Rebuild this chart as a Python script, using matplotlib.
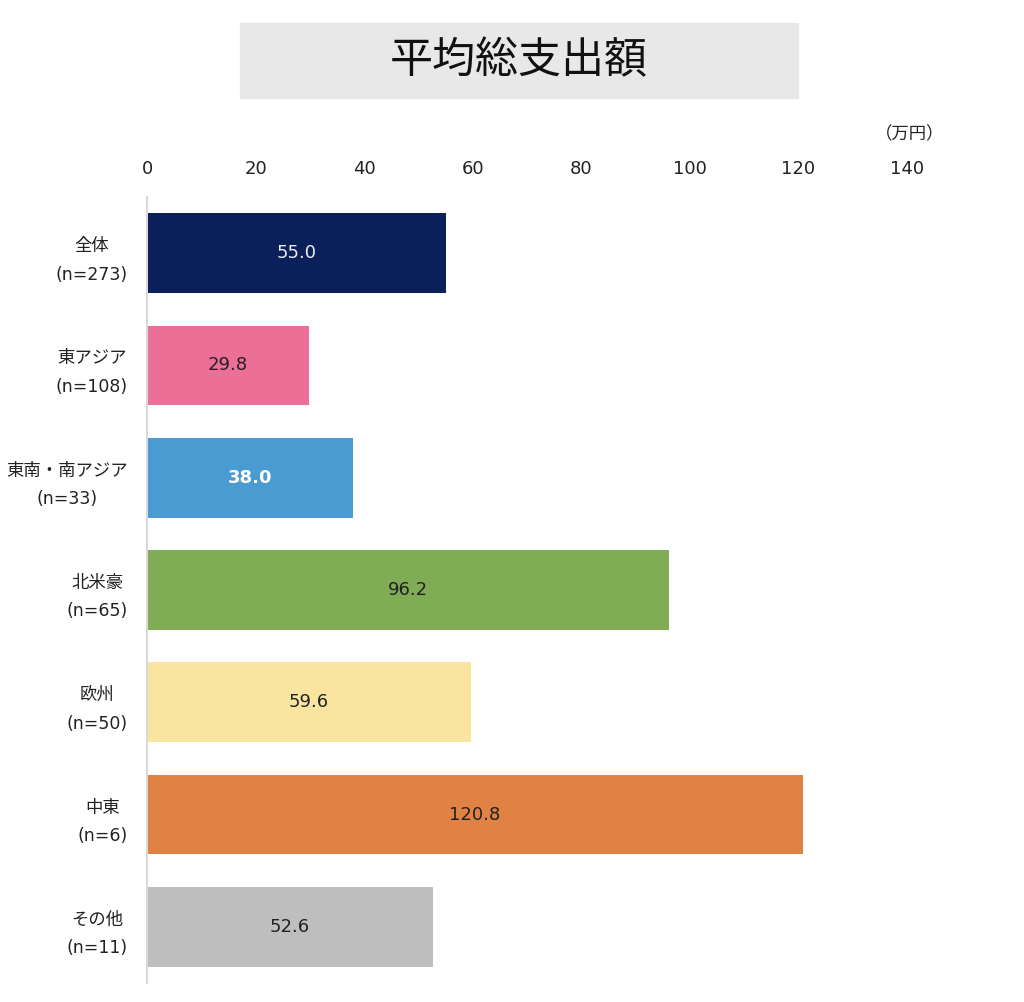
import matplotlib.pyplot as plt
from matplotlib.patches import Rectangle

plt.rcParams['font.family'] = ['DejaVu Sans', 'Noto Sans CJK JP']

regions = ['全体', '東アジア', '東南・南アジア', '北米豪', '欧州', '中東', 'その他']
counts = [273, 108, 33, 65, 50, 6, 11]
values = [55.0, 29.8, 38.0, 96.2, 59.6, 120.8, 52.6]
colors = ['#0b1f5a', '#ec6f98', '#4a9bd1', '#80ac55', '#fae5a0', '#e08244', '#bebebe']
label_colors = ['#e8ecf5', '#222222', 'white', '#222222', '#222222', '#222222', '#222222']
label_bold = [False, False, True, False, False, False, False]
ticks = [0, 20, 40, 60, 80, 100, 120, 140]

fig = plt.figure(figsize=(10.24, 10.02), dpi=100)
ax = fig.add_axes([0.1436, 0.019, 0.7422, 0.7844])

ypos = list(range(len(regions)))
ax.barh(ypos, values, height=0.71, color=colors)
for y, v, c, b in zip(ypos, values, label_colors, label_bold):
    ax.text(v / 2, y, f'{v:.1f}', ha='center', va='center', fontsize=13,
            color=c, fontweight='bold' if b else 'normal')

ax.set_ylim(len(regions) - 0.5, -0.5)
ax.set_xlim(0, 140)
ax.set_xticks(ticks)
ax.xaxis.tick_top()
ax.tick_params(axis='x', length=0, pad=14, labelsize=13, labelcolor='#222222')
ax.set_yticks(ypos)
ax.set_yticklabels([f'{r}\n(n={n})' for r, n in zip(regions, counts)],
                   multialignment='center', linespacing=1.75)
ax.tick_params(axis='y', length=0, pad=13.7, labelsize=12.5, labelcolor='#222222')

for s in ['top', 'right', 'bottom']:
    ax.spines[s].set_visible(False)
ax.spines['left'].set_color('#d9d9d9')
ax.spines['left'].set_linewidth(1.5)

fig.patches.append(Rectangle((240 / 1024, 1 - 98 / 1002), 558 / 1024, 75 / 1002,
                             transform=fig.transFigure, color='#e8e8e8', zorder=0))
fig.text(519 / 1024, 1 - 61 / 1002, '平均総支出額', ha='center', va='center',
         fontsize=31, color='#111111')
fig.text(910 / 1024, 1 - 134 / 1002, '（万円）', ha='center', va='center',
         fontsize=12.5, color='#222222')

fig.savefig('out.png', dpi=100)
